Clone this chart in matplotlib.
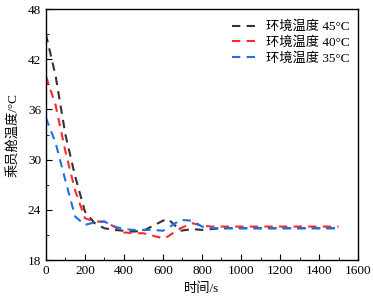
import numpy as np
import matplotlib
matplotlib.use("Agg")
import matplotlib.pyplot as plt
from matplotlib.ticker import MultipleLocator

plt.rcParams['font.family'] = ['Liberation Serif', 'Noto Sans CJK SC']
plt.rcParams['font.size'] = 9.5

# time (s)
t = [0, 50, 100, 150, 200, 250, 300, 350, 400, 450, 500, 550, 600, 625, 650, 690,
     750, 800, 850, 900, 1000, 1100, 1200, 1300, 1400, 1500]
# cabin temperature for each ambient temperature
temp45 = [45.0, 40.0, 33.0, 28.0, 23.8, 22.4, 21.8, 21.6, 21.5, 21.4, 21.5, 22.1, 22.7, 22.9, 22.4, 21.5,
          21.7, 21.6, 21.7, 21.8, 21.8, 21.8, 21.8, 21.8, 21.8, 21.8]
temp40 = [40.0, 36.5, 31.0, 26.3, 23.0, 22.6, 22.6, 22.0, 21.3, 21.2, 21.2, 20.9, 20.6, 20.8, 21.2, 21.8,
          22.4, 22.1, 22.0, 22.0, 22.0, 22.0, 22.0, 22.0, 22.0, 22.0]
temp35 = [35.0, 32.0, 27.5, 23.2, 22.2, 22.5, 22.6, 22.0, 21.7, 21.6, 21.6, 21.6, 21.5, 21.8, 22.2, 22.8,
          22.7, 22.0, 21.8, 21.8, 21.8, 21.8, 21.8, 21.8, 21.8, 21.8]
labels = ['环境温度 45°C', '环境温度 40°C', '环境温度 35°C']
colors = ['#333333', '#ff2a2a', '#1f6fe8']

fig = plt.figure(figsize=(3.73, 3.02), dpi=100)
ax = fig.add_axes([0.123, 0.139, 0.837, 0.831])

for y, lab, c in zip([temp45, temp40, temp35], labels, colors):
    ax.plot(t, y, color=c, lw=1.5, linestyle=(0, (4, 3)), label=lab)

ax.set_xlim(0, 1600)
ax.set_ylim(18, 48)
ax.xaxis.set_major_locator(MultipleLocator(200))
ax.xaxis.set_minor_locator(MultipleLocator(100))
ax.yaxis.set_major_locator(MultipleLocator(6))
ax.yaxis.set_minor_locator(MultipleLocator(3))
ax.tick_params(which='both', direction='in', top=False, right=False)
ax.tick_params(which='major', length=4)
ax.tick_params(which='minor', length=2)
for s in ax.spines.values():
    s.set_linewidth(1.0)

ax.set_xlabel('时间/s')
ax.set_ylabel('乘员舱温度/°C', labelpad=6)

ax.legend(loc='upper right', bbox_to_anchor=(1.0, 0.986), frameon=False,
          handlelength=2.2, handletextpad=0.4, labelspacing=0.25, borderaxespad=0.2)

fig.savefig('out.png', dpi=100)
